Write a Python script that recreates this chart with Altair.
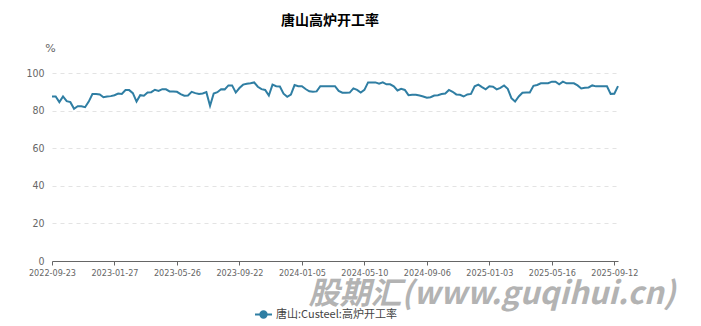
import altair as alt
import pandas as pd

values = [
    87.5, 87.5, 84.5, 87.5, 85.0, 84.5, 81.0, 82.3, 82.3, 81.8,
    84.8, 88.8, 88.8, 88.6, 87.1, 87.5, 87.7, 88.2, 89.1, 88.8,
    90.9, 90.9, 89.3, 84.8, 88.2, 87.9, 89.6, 89.8, 91.1, 90.5,
    91.4, 91.3, 90.2, 90.2, 90.0, 88.8, 87.9, 88.0, 90.0, 89.3,
    88.8, 89.1, 89.8, 82.5, 89.1, 89.8, 91.4, 91.3, 93.4, 93.4,
    89.6, 92.0, 93.8, 94.3, 94.6, 95.0, 92.7, 91.4, 91.0, 88.0,
    93.8, 93.0, 92.8, 89.0, 87.3, 88.5, 93.6, 93.0, 93.0, 91.5,
    90.3, 90.0, 90.2, 93.0, 93.0, 93.0, 93.0, 93.0, 90.5, 89.5,
    89.5, 89.6, 91.8, 91.0, 89.6, 91.0, 95.0, 95.0, 95.0, 94.3,
    95.0, 94.0, 94.0, 92.9, 90.7, 91.6, 91.0, 88.2, 88.4, 88.4,
    88.0, 87.5, 86.8, 87.1, 88.0, 88.2, 88.8, 89.1, 91.0, 90.0,
    88.6, 88.4, 87.5, 88.6, 88.9, 92.9, 93.8, 92.5, 91.3, 92.9,
    92.7, 91.3, 92.1, 93.4, 91.6, 86.6, 84.8, 87.5, 89.5, 89.6,
    89.6, 93.2, 93.6, 94.5, 94.5, 94.6, 95.4, 95.4, 94.0, 95.4,
    94.5, 94.5, 94.5, 93.4, 91.8, 92.1, 92.3, 93.4, 92.9, 92.9,
    92.9, 92.9, 88.9, 89.0, 93.0,
]
tick_labels = ["2022-09-23", "2023-01-27", "2023-05-26", "2023-09-22", "2024-01-05",
               "2024-05-10", "2024-09-06", "2025-01-03", "2025-05-16", "2025-09-12"]
tick_step = 17
series_name = "唐山:Custeel:高炉开工率"
title_text = "唐山高炉开工率"
watermark = "股期汇(www.guqihui.cn)"

df = pd.DataFrame({"i": list(range(len(values))), "v": values, "s": series_name})
tick_positions = [k * tick_step for k in range(len(tick_labels))]
label_js = "[" + ",".join("'" + t + "'" for t in tick_labels) + "]"

color = "#2f7ea3"
cjk = "Noto Sans CJK SC"

line = alt.Chart(df).mark_line(strokeWidth=2, color=color).encode(
    x=alt.X("i:Q",
            scale=alt.Scale(domain=[0, len(values) - 1], nice=False, zero=False),
            axis=alt.Axis(values=tick_positions,
                          labelExpr=label_js + "[round(datum.value/" + str(tick_step) + ")]",
                          title=None, grid=False, domainColor="#666", tickColor="#666",
                          tickSize=4, labelColor="#666", labelFontSize=9,
                          labelFont="DejaVu Sans Condensed", labelPadding=3,
                          labelOverlap=False, labelFlush=False)),
    y=alt.Y("v:Q",
            scale=alt.Scale(domain=[0, 100], nice=False),
            axis=alt.Axis(values=[0, 20, 40, 60, 80, 100], title="%", titleAngle=0,
                          titleX=-2, titleY=-20, titleAlign="center", titleColor="#666",
                          titleFontWeight="normal", titleFontSize=11, titleFont="DejaVu Sans",
                          domain=False, ticks=False, grid=True, gridColor="#e3e3e3",
                          gridDash=[4, 4], labelColor="#666", labelFontSize=10.5,
                          labelFont="DejaVu Sans Condensed", labelPadding=8)),
    stroke=alt.Stroke("s:N", scale=alt.Scale(range=[color]),
                      legend=alt.Legend(title=None, orient="none", legendX=203, legendY=233,
                                        symbolType="M-1.2,0 L1.2,0 M0.45,0 A0.45,0.45 0 1,1 -0.45,0 A0.45,0.45 0 1,1 0.45,0 Z",
                                        symbolSize=200, symbolStrokeWidth=2,
                                        symbolFillColor=color, symbolStrokeColor=color,
                                        labelFont=cjk, labelFontSize=11, labelColor="#444")),
)

wm = alt.Chart(pd.DataFrame({"t": [watermark]})).mark_text(
    font=cjk, fontSize=31, fontWeight="bold", fontStyle="italic", color="#b3b3b3",
    align="center", baseline="middle"
).encode(x=alt.value(440), y=alt.value(222), text="t:N")

chart = alt.layer(line, wm).properties(
    width=566, height=188,
    title=alt.Title(title_text, anchor="middle", offset=14, dx=-5, font=cjk,
                    fontSize=14, fontWeight="bold", color="#000"),
    autosize=alt.AutoSizeParams(type="none"),
    padding={"left": 52, "top": 73, "right": 83, "bottom": 65},
).configure(background="white").configure_view(stroke=None, strokeWidth=0)

chart.save("out.html", embed_options={"renderer": "svg", "actions": False})
